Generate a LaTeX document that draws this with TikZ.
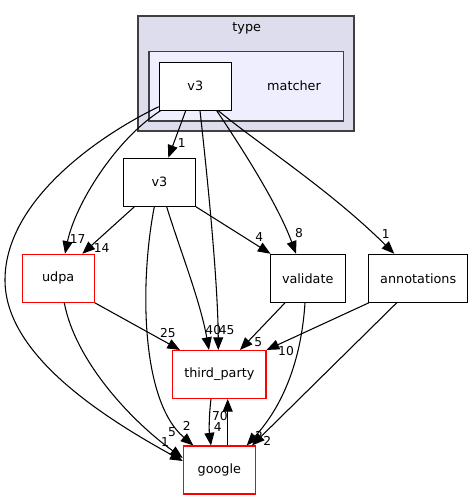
\documentclass[tikz,border=0pt]{standalone}
\usepackage{fontspec}
\setmainfont{DejaVu Sans}
\usetikzlibrary{arrows.meta,calc}
\definecolor{clusterA}{HTML}{DDDDEE}
\definecolor{clusterB}{HTML}{EEEEFF}
\definecolor{clusterLine}{HTML}{404040}
\begin{document}
\begin{tikzpicture}[x=0.75pt,y=-0.75pt,
  box/.style={draw=black,line width=0.8pt,fill=white,minimum height=36pt,inner sep=0pt,font=\fontsize{9.6}{11}\selectfont},
  redbox/.style={box,draw=red},
  clus/.style={draw=clusterLine,line width=1pt},
  clab/.style={inner sep=0pt,font=\fontsize{9.6}{11}\selectfont},
  edge/.style={draw=black,line width=0.8pt,-{Triangle[length=9.5pt,width=7.5pt]}},
  lbl/.style={font=\fontsize{9.2}{10}\selectfont,inner sep=0pt}]
\useasboundingbox (0,0) rectangle (473,500);
\fill[white] (0,0) rectangle (473,500);
% clusters
\draw[clus,fill=clusterA] (138,16) rectangle (354,131);
\node[clab] (typelbl) at (246.7,28.5) {type};
\draw[clus,fill=clusterB] (149,51.7) rectangle (343.7,121);
\node[clab] (matcherlbl) at (294,86) {matcher};
% nodes
\node[box,minimum width=54pt] (v3in) at (195.3,86.2) {v3};
\node[box,minimum width=54pt] (v3b) at (159.5,182.3) {v3};
\node[redbox,minimum width=54.2pt] (udpa) at (58.2,278.3) {udpa};
\node[box,minimum width=56pt] (validate) at (307.7,278.3) {validate};
\node[box,minimum width=74.25pt] (annot) at (418.2,278.3) {annotations};
\node[redbox,minimum width=70pt] (tp) at (219.3,374.5) {third\_party};
\node[redbox,minimum width=54pt] (google) at (219.3,470) {google};
% labels
\node[lbl] (l1) at (181.7,143.3) {1};
\node[lbl] (l17) at (77.7,238.7) {17};
\node[lbl] (l14) at (101.7,247.7) {14};
\node[lbl] (l8) at (299,233.3) {8};
\node[lbl] (l4v) at (259.3,236.7) {4};
\node[lbl] (l1a) at (385.7,234.3) {1};
\node[lbl] (l25) at (168,332.7) {25};
\node[lbl] (l40) at (213.3,330) {40};
\node[lbl] (l45) at (226.7,330) {45};
\node[lbl] (l5v) at (258.3,341.7) {5};
\node[lbl] (l10) at (286,350.7) {10};
\node[lbl] (l70) at (220,416) {70};
\node[lbl] (l4t) at (217.7,426.7) {4};
\node[lbl] (l2b) at (186.7,426) {2};
\node[lbl] (l5u) at (172,432) {5};
\node[lbl] (l1g) at (165,442.5) {1};
\node[lbl] (l2v) at (259,436) {2};
\node[lbl] (l2a) at (267.3,440.7) {2};
% edges from inner v3
\draw[edge] ($(v3in.south)+(-9.6,0)$) -- ($(v3b.north)+(8.8,0)$);
\draw[edge] ($(v3in.south west)+(1.7,0)$) .. controls (115,140) and (75,205) .. ($(udpa.north)+(6.8,0)$);
\draw[edge] ($(v3in.south west)+(0,-4)$) .. controls (100,135) and (5,200) .. (5,280) .. controls (5,350) and (90,410) .. ($(google.west)+(0,-9)$);
\draw[edge] ($(v3in.south)+(4.7,0)$) .. controls (210,200) and (218,290) .. ($(tp.north)+(-1,0)$);
\draw[edge] ($(v3in.south)+(21.4,0)$) .. controls (250,160) and (280,210) .. ($(validate.north)+(-11.7,0)$);
\draw[edge] ($(v3in.south)+(23,0)$) .. controls (260,145) and (330,190) .. ($(annot.north)+(-23.9,0)$);
% edges from v3
\draw[edge] ($(v3b.south)+(-25.2,0)$) -- ($(udpa.north)+(24.1,0)$);
\draw[edge] (v3b.south east) -- ($(validate.north west)+(0.7,0)$);
\draw[edge] ($(v3b.south)+(7.2,0)$) .. controls (180,250) and (200,300) .. ($(tp.north)+(-10.3,0)$);
\draw[edge] ($(v3b.south)+(-5.2,0)$) .. controls (140,280) and (140,400) .. ($(google.north)+(-26,0)$);
% edges from udpa
\draw[edge] (udpa.south east) -- ($(tp.north)+(-39.3,0)$);
\draw[edge] ($(udpa.south)+(6.1,0)$) .. controls (75,360) and (130,420) .. ($(google.west)+(0,-12)$);
% edges from validate
\draw[edge] ($(validate.south)+(-22.7,0)$) -- ($(tp.north)+(20.7,0)$);
\draw[edge] ($(validate.south)+(-2.7,0)$) .. controls (300,380) and (270,420) .. ($(google.north)+(27.4,0)$);
% edges from annotations
\draw[edge] ($(annot.south west)+(0.6,0)$) -- (tp.north east);
\draw[edge] ($(annot.south)+(-21.5,0)$) -- ($(google.north)+(32.7,0)$);
% third_party <-> google
\draw[edge] ($(tp.south)+(-8.3,0)$) .. controls (209,415) and (209,430) .. ($(google.north)+(-8.3,0)$);
\draw[edge] ($(google.north)+(8.4,0)$) -- ($(tp.south)+(8.4,0)$);
\end{tikzpicture}
\end{document}
